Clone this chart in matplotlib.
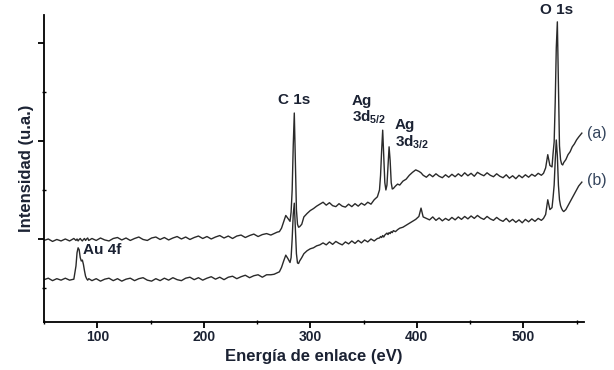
"""XPS survey spectra (a) and (b)."""
import matplotlib
matplotlib.use("Agg")
import matplotlib.pyplot as plt
from matplotlib.ticker import MultipleLocator

plt.rcParams["font.family"] = ["Liberation Sans", "DejaVu Sans"]
plt.rcParams["mathtext.fontset"] = "custom"
plt.rcParams["mathtext.rm"] = "Liberation Sans"
plt.rcParams["mathtext.bf"] = "Liberation Sans:bold"

# %%
# binding energy grid (eV), shared by both spectra
energy = [
    50, 54, 58, 62, 66, 70, 74, 78,
    80, 81, 82, 83, 84, 85, 86, 87, 88, 89, 90, 91, 92,
    95, 99, 103, 107, 111, 115, 119, 123, 127, 131, 135, 139, 143, 147, 151,
    155, 159, 163, 167, 171, 175, 179, 183, 187, 191, 195, 199, 203, 207, 211,
    215, 219, 223, 227, 231, 235, 239, 243, 247, 251, 255, 259, 263,
    266, 269, 271, 273, 275, 277, 279, 281, 282, 283, 284, 285, 286, 287, 288,
    289, 290, 292, 294, 297, 300,
    303, 306, 309, 312, 315, 318, 321, 324, 327, 330, 333, 336, 339, 342, 345,
    348, 351, 354, 357, 360, 363,
    365, 366, 367, 368, 369, 370, 371, 372, 373, 374, 375, 376, 377, 378, 380,
    382, 384,
    387, 390, 393, 396, 399, 402, 404, 406, 409, 412, 415, 418, 421, 424, 427,
    430, 433, 436, 439, 442, 445, 448, 451, 454, 457, 460, 463, 466, 469, 472,
    475, 478, 481, 484, 487, 490, 493, 496, 499, 502, 505, 508, 511, 514, 517,
    519, 521, 523, 525, 527, 528, 529, 530, 531, 532, 533, 534, 535, 536, 537,
    538, 540, 542, 544, 546, 548, 550, 552, 555,
]

# spectrum (a), arbitrary units (already offset)
spec_a = [
    1.97, 2.00, 1.95, 1.99, 1.96, 2.00, 1.96, 2.01,
    1.97, 2.00, 1.96, 1.99, 2.01, 1.98, 1.96, 1.99, 2.01, 1.97, 2.00, 2.02, 1.97,
    2.01, 1.97, 2.02, 1.98, 1.96, 2.01, 2.03, 1.98, 2.02, 1.97, 2.01, 2.04, 1.99,
    1.97, 2.02, 2.04, 1.99, 2.03, 1.98, 2.02, 2.05, 2.00, 2.04, 1.99, 2.03, 2.06,
    2.01, 2.05, 2.00, 2.04, 2.07, 2.02, 2.06, 2.01, 2.06, 2.08, 2.03, 2.07, 2.10,
    2.05, 2.09, 2.11, 2.08,
    2.11, 2.14, 2.15, 2.22, 2.35, 2.48, 2.42, 2.36, 2.55, 3.00, 3.90, 4.57, 3.60,
    2.60, 2.30, 2.24, 2.25, 2.30, 2.45, 2.52, 2.58,
    2.62, 2.67, 2.71, 2.75, 2.69, 2.74, 2.68, 2.66, 2.72, 2.67, 2.65, 2.71, 2.66,
    2.72, 2.67, 2.73, 2.69, 2.75, 2.71, 2.80, 2.86,
    3.00, 3.30, 3.80, 4.22, 3.70, 3.15, 3.00, 3.10, 3.50, 3.88, 3.60, 3.15, 3.02,
    3.03, 3.08, 3.12, 3.10,
    3.18, 3.22, 3.30, 3.36, 3.41, 3.38, 3.35, 3.30, 3.26, 3.32, 3.27, 3.33, 3.28,
    3.25, 3.31, 3.26, 3.32, 3.27, 3.33, 3.28, 3.35, 3.29, 3.34, 3.28, 3.36, 3.32,
    3.29, 3.35, 3.30, 3.27, 3.33, 3.28, 3.25, 3.31, 3.24, 3.29, 3.23, 3.30, 3.25,
    3.31, 3.26, 3.32, 3.28, 3.34, 3.30,
    3.34, 3.45, 3.72, 3.50, 3.47, 3.75, 3.98, 4.80, 5.90, 6.43, 5.10, 3.90, 3.62,
    3.53, 3.51, 3.56, 3.62, 3.72, 3.78, 3.88, 3.94, 4.02, 4.08, 4.16,
]

# spectrum (b)
spec_b = [
    1.17, 1.20, 1.15, 1.19, 1.16, 1.20, 1.16, 1.18,
    1.45, 1.72, 1.82, 1.78, 1.62, 1.55, 1.57, 1.48, 1.35, 1.24, 1.19, 1.16, 1.19,
    1.15, 1.19, 1.14, 1.18, 1.20, 1.15, 1.19, 1.14, 1.18, 1.20, 1.15, 1.19, 1.21,
    1.16, 1.14, 1.19, 1.15, 1.20, 1.16, 1.21, 1.17, 1.15, 1.20, 1.22, 1.17, 1.21,
    1.16, 1.20, 1.23, 1.18, 1.22, 1.17, 1.22, 1.24, 1.19, 1.23, 1.26, 1.21, 1.25,
    1.27, 1.22, 1.27, 1.27,
    1.28, 1.31, 1.33, 1.42, 1.55, 1.67, 1.60, 1.52, 1.62, 2.00, 2.50, 2.73, 2.20,
    1.70, 1.51, 1.50, 1.55, 1.62, 1.70, 1.76, 1.80,
    1.82, 1.86, 1.88, 1.92, 1.88, 1.94, 1.89, 1.95, 1.91, 1.88, 1.94, 1.90, 1.96,
    1.91, 1.97, 1.92, 1.98, 1.94, 2.00, 1.96, 2.01,
    2.02, 2.05, 2.03, 2.07, 2.04, 2.08, 2.10, 2.12, 2.09, 2.13, 2.11, 2.15, 2.13,
    2.17, 2.15, 2.19, 2.22,
    2.24, 2.28, 2.32, 2.36, 2.40, 2.46, 2.63, 2.45, 2.42, 2.39, 2.45, 2.38, 2.43,
    2.37, 2.42, 2.38, 2.44, 2.39, 2.45, 2.40, 2.46, 2.41, 2.47, 2.42, 2.48, 2.43,
    2.40, 2.46, 2.41, 2.38, 2.44, 2.39, 2.36, 2.42, 2.35, 2.40, 2.34, 2.39, 2.33,
    2.40, 2.35, 2.41, 2.36, 2.42, 2.38,
    2.42, 2.50, 2.80, 2.60, 2.64, 2.85, 3.10, 3.60, 4.02, 3.70, 3.10, 2.80, 2.68,
    2.62, 2.58, 2.56, 2.60, 2.68, 2.76, 2.84, 2.92, 3.00, 3.08, 3.16,
]

txt = "#1b2233"

# %%
fig = plt.figure(figsize=(6.14, 3.70), dpi=100)
ax = fig.add_axes([0.0717, 0.1297, 0.8794, 0.8298])

ax.plot(energy, spec_a, color="#2a2a2a", lw=1.0)
ax.plot(energy, spec_b, color="#2a2a2a", lw=1.0)

ax.set_xlim(50, 557)
ax.set_ylim(0.306, 6.57)

for s in ("top", "right"):
    ax.spines[s].set_visible(False)
for s in ("left", "bottom"):
    ax.spines[s].set_linewidth(1.3)

ax.xaxis.set_major_locator(MultipleLocator(100))
ax.xaxis.set_minor_locator(MultipleLocator(50))
ax.yaxis.set_major_locator(MultipleLocator(2))
ax.yaxis.set_minor_locator(MultipleLocator(1))
ax.tick_params(which="major", direction="out", length=4, width=1.3)
ax.tick_params(which="minor", direction="inout", length=3, width=1.0)
ax.tick_params(axis="y", labelleft=False)
ax.tick_params(axis="x", labelsize=10, labelcolor=txt, pad=2)
for lab in ax.get_xticklabels():
    lab.set_fontweight("bold")

ax.set_xlabel("Energía de enlace (eV)", fontsize=12, fontweight="bold",
              color=txt, labelpad=3)
ax.set_ylabel("Intensidad (u.a.)", fontsize=12, fontweight="bold",
              color=txt, labelpad=2)

# peak labels
kw = dict(fontsize=11, fontweight="bold", color=txt)
ax.text(86.5, 1.78, "Au 4f", ha="left", va="center", **kw)
ax.text(285, 4.84, "C 1s", ha="center", va="center", **kw)
ax.text(339, 4.82, "Ag", ha="left", va="center", **kw)
ax.text(339, 4.48, r"3d$_{\mathbf{5/2}}$", ha="left", va="center", **kw)
ax.text(379.5, 4.33, "Ag", ha="left", va="center", **kw)
ax.text(379.5, 3.97, r"3d$_{\mathbf{3/2}}$", ha="left", va="center", **kw)
ax.text(531, 6.68, "O 1s", ha="center", va="center", clip_on=False, **kw)

kw2 = dict(fontsize=11.5, color="#34445c", ha="center", va="center", clip_on=False)
ax.text(569.5, 4.16, "(a)", **kw2)
ax.text(569.5, 3.20, "(b)", **kw2)

fig.savefig("out.png", dpi=100)
